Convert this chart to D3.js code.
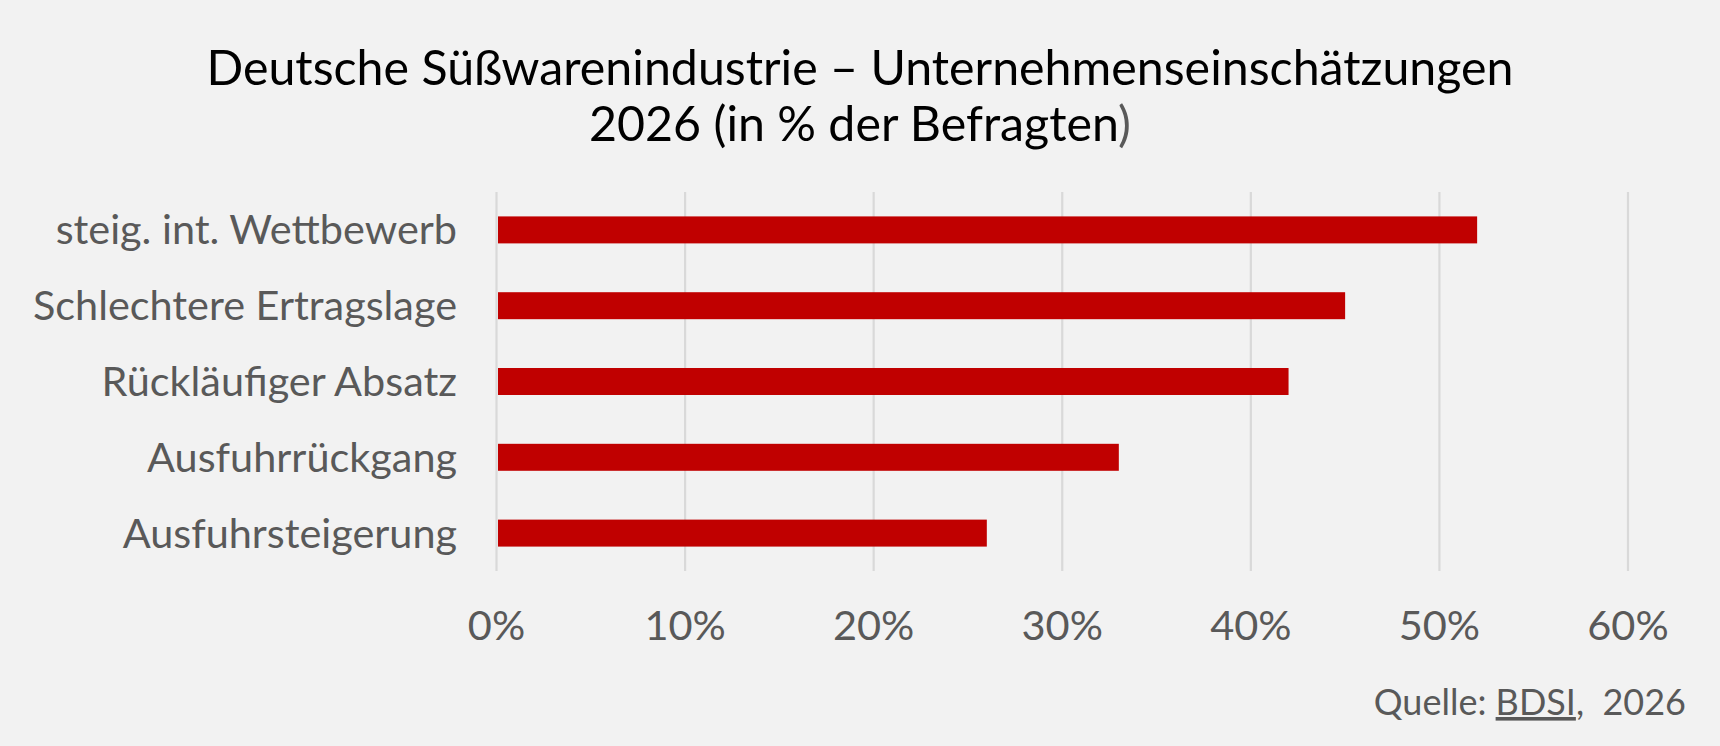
<!DOCTYPE html>
<html><head><meta charset="utf-8">
<script src="https://cdn.jsdelivr.net/npm/d3@7"></script>
<style>
html,body{margin:0;padding:0;background:#f2f2f2;}
svg{display:block;font-family:Lato, sans-serif;}
</style></head>
<body>
<svg id="chart" width="1720" height="746"></svg>
<script>
const titleLines = ["Deutsche Süßwarenindustrie – Unternehmenseinschätzungen", "2026 (in % der Befragten"];
const titleTail = ")";
const categories = ["steig. int. Wettbewerb", "Schlechtere Ertragslage", "Rückläufiger Absatz", "Ausfuhrrückgang", "Ausfuhrsteigerung"];
const values = [52, 45, 42, 33, 26];
const tickValues = [0, 10, 20, 30, 40, 50, 60];
const sourceLabel = "Quelle: ";
const sourceLink = "BDSI";
const sourceRest = ",  2026";

const svg = d3.select("#chart");
svg.append("rect").attr("width",1720).attr("height",746).attr("fill","#f2f2f2");

const x = d3.scaleLinear().domain([0,60]).range([496.5,1628]);
const y = d3.scaleBand().domain(categories).range([192,571]).paddingInner(0.644).paddingOuter(0.322);

// title
svg.append("text").attr("text-anchor","middle").attr("font-size",48.3).attr("fill","#000")
  .attr("x",860).attr("y",84.5).text(titleLines[0]);
const t2 = svg.append("text").attr("text-anchor","middle").attr("font-size",48.3).attr("fill","#000")
  .attr("x",860).attr("y",141);
t2.append("tspan").text(titleLines[1]);
t2.append("tspan").attr("fill","#595959").text(titleTail);

// gridlines
svg.append("g").selectAll("line").data(tickValues).join("line")
  .attr("x1",d=>x(d)).attr("x2",d=>x(d)).attr("y1",192).attr("y2",571)
  .attr("stroke","#d9d9d9").attr("stroke-width",2.2);

// bars
svg.append("g").selectAll("rect").data(values).join("rect")
  .attr("x",x(0)+1.5).attr("y",(d,i)=>y(categories[i]))
  .attr("width",d=>x(d)-x(0)-1.5).attr("height",y.bandwidth())
  .attr("fill","#c00000");

// category labels
svg.append("g").selectAll("text").data(categories).join("text")
  .attr("x",457).attr("y",d=>y(d)+y.bandwidth()/2).attr("dy","0.35em")
  .attr("text-anchor","end").attr("font-size",41.4).attr("fill","#595959").text(d=>d);

// x tick labels
svg.append("g").selectAll("text").data(tickValues).join("text")
  .attr("x",d=>x(d)).attr("y",640).attr("text-anchor","middle")
  .attr("font-size",41.5).attr("fill","#595959").text(d=>d+"%");

// source
const s = svg.append("text").attr("x",1686).attr("y",715).attr("text-anchor","end")
  .attr("font-size",36).attr("fill","#595959").style("white-space","pre");
s.append("tspan").text(sourceLabel);
s.append("tspan").attr("text-decoration","underline").text(sourceLink);
s.append("tspan").text(sourceRest);
</script>
</body></html>
